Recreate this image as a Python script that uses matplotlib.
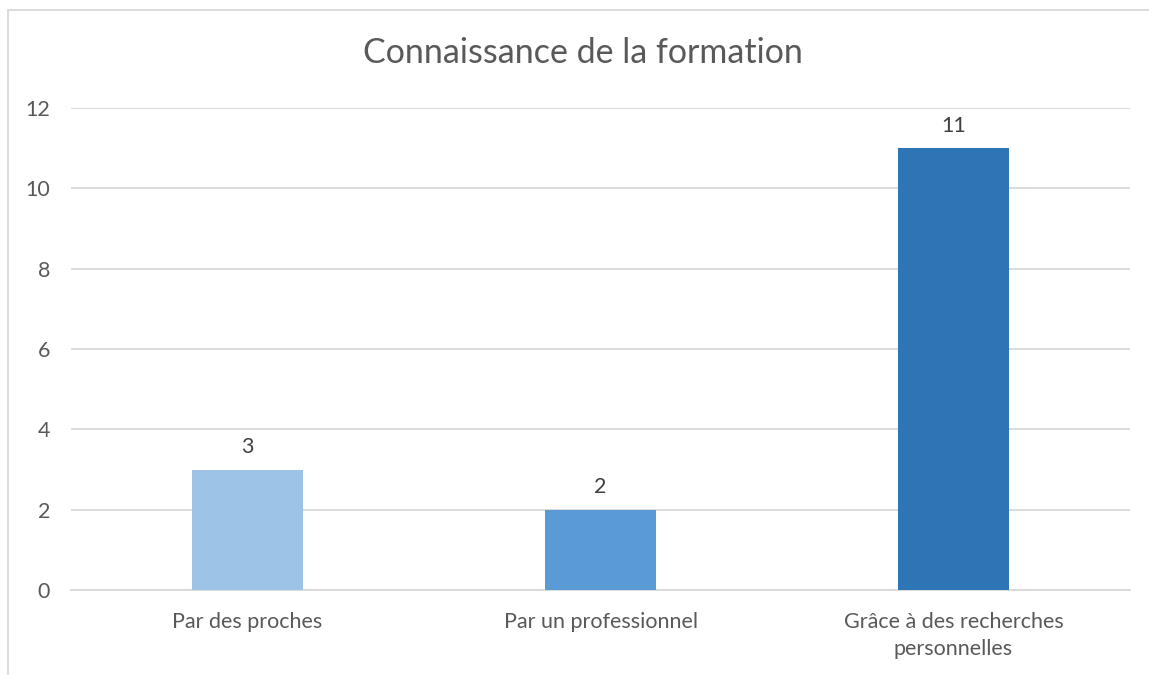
import matplotlib
matplotlib.use("Agg")
import matplotlib.pyplot as plt
from matplotlib.patches import Rectangle

# Data
categories = ["Par des proches", "Par un professionnel", "Grâce à des recherches\npersonnelles"]
values = [3, 2, 11]
colors = ["#9DC3E6", "#5B9BD5", "#2E75B6"]
yticks = [0, 2, 4, 6, 8, 10, 12]
title = "Connaissance de la formation"

plt.rcParams["font.family"] = ["Lato", "DejaVu Sans"]

W, H = 1149, 675
fig = plt.figure(figsize=(W / 100, H / 100), dpi=100)
ax = fig.add_axes([71 / W, 1 - 590 / H, (1130 - 71) / W, (590 - 108) / H])

# chart frame (light gray border, cropped on right/bottom)
fig.patches.append(Rectangle((7.5 / W, -0.1), 1.2, 1 - 9.5 / H + 0.1,
                             transform=fig.transFigure, fill=False,
                             edgecolor="#D9D9D9", linewidth=1.3))

x = range(len(categories))
bars = ax.bar(x, values, width=0.315, color=colors, zorder=3)

for b, v in zip(bars, values):
    ax.annotate(str(v), (b.get_x() + b.get_width() / 2, v),
                xytext=(0, 9), textcoords="offset points",
                ha="center", va="bottom", fontsize=15.5, color="#404040")

ax.set_xlim(-0.5, len(categories) - 0.5)
ax.set_ylim(0, 12)
ax.set_yticks(yticks)
ax.set_xticks(list(x))
ax.set_xticklabels(categories, fontsize=15.5, color="#595959", linespacing=1.45)
ax.tick_params(axis="y", labelsize=15.5, labelcolor="#595959", length=0, pad=15)
ax.tick_params(axis="x", length=0, pad=16)

ax.grid(axis="y", color="#D9D9D9", linewidth=1.3, zorder=0)
for side in ["top", "right", "left"]:
    ax.spines[side].set_visible(False)
ax.spines["bottom"].set_color("#D9D9D9")
ax.spines["bottom"].set_linewidth(1.3)

fig.text(583 / W, 1 - 53 / H, title, ha="center", va="center",
         fontsize=24.5, color="#595959")

fig.savefig("out.png", dpi=100)
